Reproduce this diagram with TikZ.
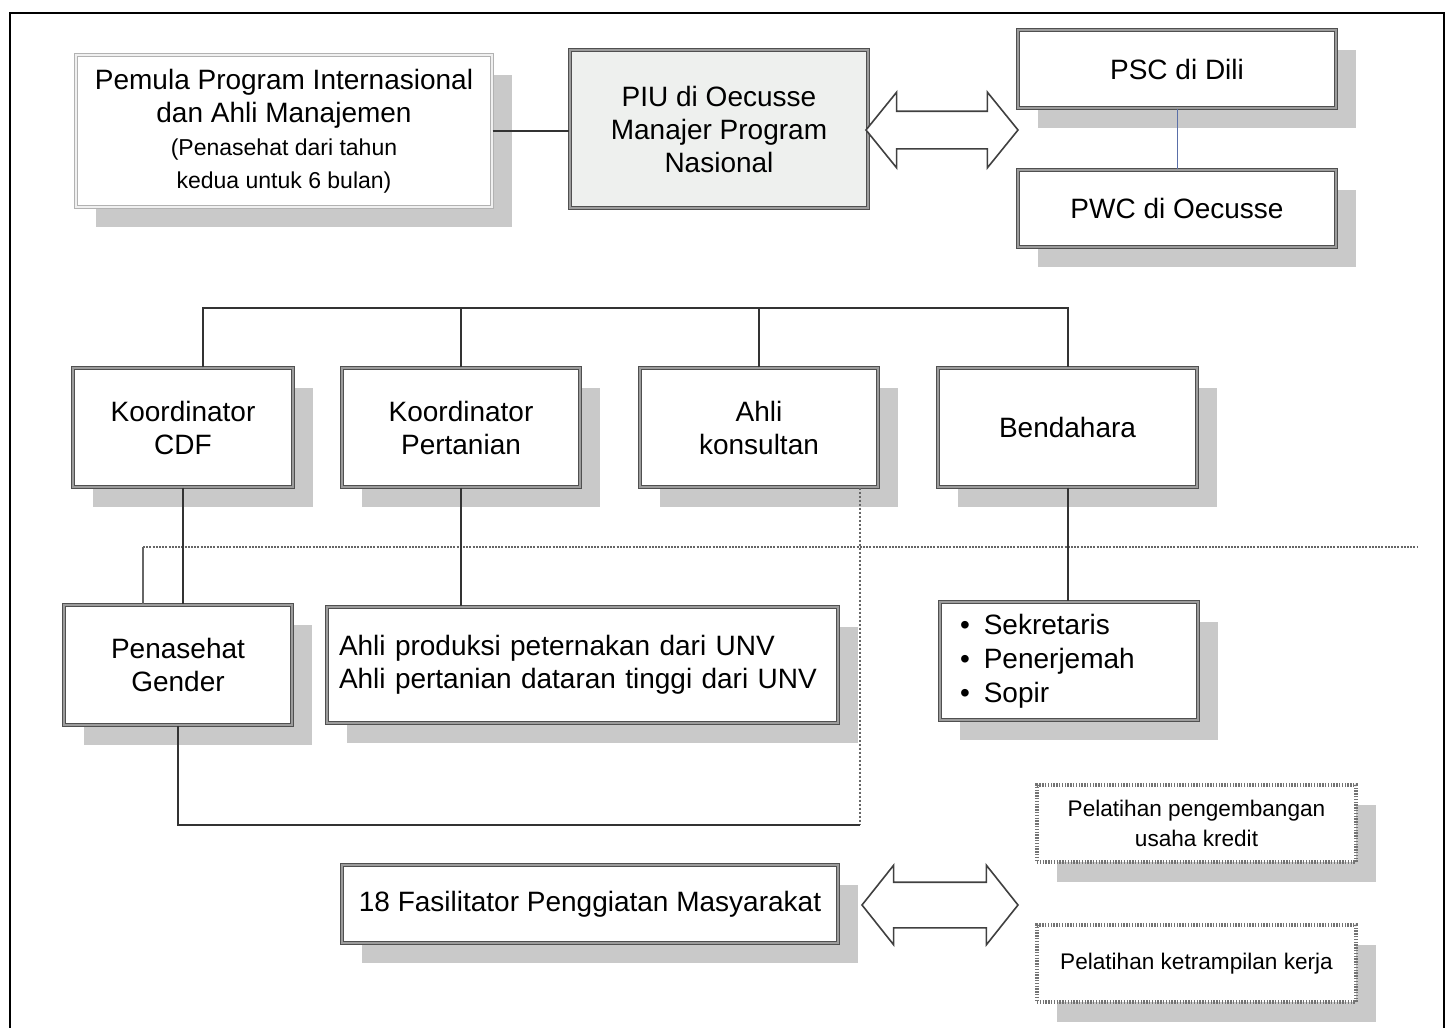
\documentclass[tikz,border=0pt]{standalone}
\usepackage{fontspec}
\setmainfont{Liberation Sans}
\usepackage{tikz}
\usetikzlibrary{shapes.arrows,shadows,calc}
\definecolor{boxline}{HTML}{505050}
\definecolor{boxmid}{HTML}{9C9C9C}
\definecolor{shade}{HTML}{C9C9C9}
\definecolor{piufill}{HTML}{EEF0EE}
\definecolor{linkblue}{HTML}{5A6FA8}
\newcommand{\smallnote}{\fontsize{11.5}{16}\selectfont}

\begin{document}
\begin{tikzpicture}[
  x=0.5pt, y=-0.5pt,
  frame/.style={
    draw=boxline,
    double=boxmid,
    double distance=1.2pt,
    line width=0.6pt,
    fill=white,
    align=center,
    inner sep=4pt,
    font=\fontsize{14}{16.5}\selectfont
  },
  box/.style={
    frame,
    drop shadow={shadow xshift=10pt, shadow yshift=-10pt, fill=shade, opacity=1}
  },
  dotbox/.style={
    draw=black!55,
    dash pattern=on 0.7pt off 0.7pt,
    line width=2.2pt,
    fill=white,
    align=center,
    font=\fontsize{11.3}{15}\selectfont,
    drop shadow={shadow xshift=10pt, shadow yshift=-10pt, fill=shade, opacity=1}
  },
  dblarrow/.style={
    double arrow,
    draw=black!75,
    fill=white,
    line width=0.8pt,
    double arrow head indent=0pt
  },
  link/.style={line width=1pt, draw=black!80},
  sepline/.style={line width=1pt, draw=black!60, dash pattern=on 1pt off 0.6pt},
  dotlink/.style={line width=0.7pt, draw=black!60, dash pattern=on 1pt off 1pt}
]
\useasboundingbox (0,0) rectangle (1451,1028);

% outer frame
\draw[line width=1pt] (10,1028) -- (10,13) -- (1444,13) -- (1444,1028);

% top row
\node[box, draw=black!30, double=black!6, minimum width=208pt, minimum height=76pt] (pemula) at (284,131) {
  Pemula Program Internasional\\
  dan Ahli Manajemen\\
  {\smallnote (Penasehat dari tahun}\\
  {\smallnote kedua untuk 6 bulan)}
};

\node[frame, fill=piufill, minimum width=149pt, minimum height=79pt] (piu) at (719,129) {
  PIU di Oecusse\\
  Manajer Program\\
  Nasional
};

\node[box, minimum width=159pt, minimum height=39pt] (psc) at (1177,69) {PSC di Dili};
\node[box, minimum width=159pt, minimum height=38.5pt] (pwc) at (1177,208.5) {PWC di Oecusse};

\node[dblarrow, inner sep=9pt, minimum height=76pt, double arrow head extend=9.5pt,
  double arrow tip angle=102] (swaptop) at (942,130) {};

% coordinators
\node[box, minimum width=110pt, minimum height=59.5pt] (cdf) at (183,427.5) {Koordinator\\ CDF};
\node[box, minimum width=119pt, minimum height=59.5pt] (pert) at (461,427.5) {Koordinator\\ Pertanian};
\node[box, minimum width=119pt, minimum height=59.5pt] (ahli) at (759,427.5) {Ahli\\ konsultan};
\node[box, minimum width=129.5pt, minimum height=59.5pt] (bend) at (1067.5,427.5) {Bendahara};

% staff
\node[box, minimum width=114pt, minimum height=60pt] (gender) at (178,665) {Penasehat\\ Gender};
\node[box, align=left, inner xsep=6pt, text width=243.5pt, minimum height=58pt] (unv) at (582.5,665) {
  Ahli produksi peternakan dari UNV\\
  Ahli pertanian dataran tinggi dari UNV
};
\node[box, align=left, inner xsep=10pt, text width=109pt, minimum height=59pt,
  font=\fontsize{14}{17}\selectfont] (staf) at (1069,661) {
  \textbullet\hspace{7pt}Sekretaris\\
  \textbullet\hspace{7pt}Penerjemah\\
  \textbullet\hspace{7pt}Sopir
};

% field level
\node[box, minimum width=248pt, minimum height=39pt] (fasil) at (590,904) {18 Fasilitator Penggiatan Masyarakat};
\node[dblarrow, inner sep=11pt, minimum height=78pt, double arrow head extend=8.5pt,
  double arrow tip angle=103] (swapbot) at (940,905) {};
\node[dotbox, minimum width=159.5pt, minimum height=38.5pt] (kredit) at (1196.5,823.5) {Pelatihan pengembangan\\ usaha kredit};
\node[dotbox, minimum width=159.5pt, minimum height=38.5pt] (kerja) at (1196.5,963.5) {Pelatihan ketrampilan kerja};

% connectors
\coordinate (bus) at (0,308);
\coordinate (cdfup) at ([xshift=10pt]cdf.north);
\coordinate (sepL) at (143,547);
\coordinate (sepR) at (1418,547);
\coordinate (loop) at (860,825);

\draw[link] (pemula.east) -- (pemula.east -| piu.west);
\draw[line width=0.5pt, draw=linkblue] (psc) -- (pwc);

\draw[link] (cdfup) -- (cdfup |- bus) -- (bend.north |- bus) -- (bend.north);
\draw[link] (pert.north) -- (pert.north |- bus);
\draw[link] (ahli.north) -- (ahli.north |- bus);

\draw[sepline] (sepL) -- (sepR);
\draw[line width=0.6pt, draw=black!60] (sepL) -- (sepL |- gender.north);

\draw[link] (cdf.south) -- (cdf.south |- gender.north);
\draw[link] (pert.south) -- (pert.south |- unv.north);
\draw[link] (bend.south) -- (bend.south |- staf.north);

\draw[dotlink] (ahli.south -| loop) -- (loop);
\draw[link] (loop) -- (loop -| gender.south) -- (gender.south);

\end{tikzpicture}
\end{document}
